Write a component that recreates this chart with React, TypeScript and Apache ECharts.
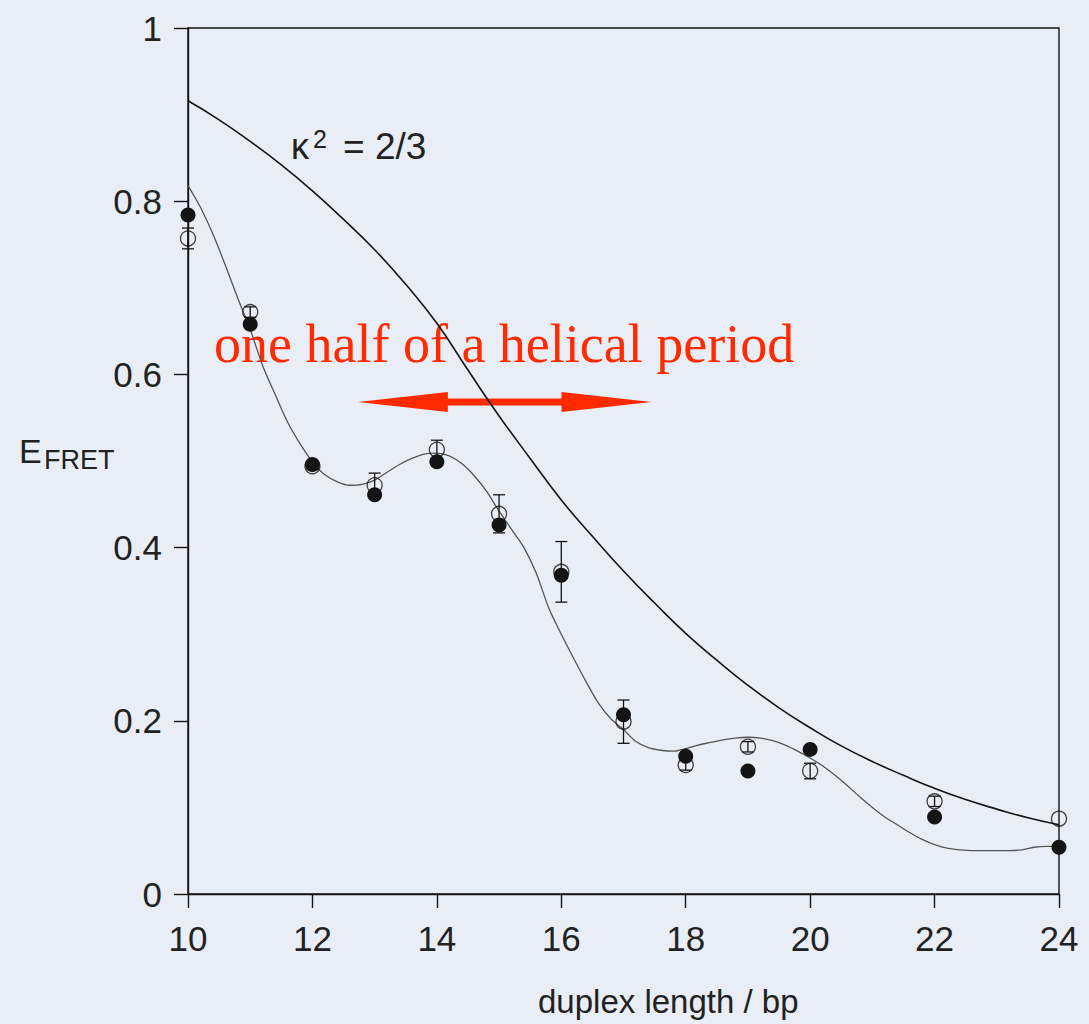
import React, { useEffect, useRef } from "react";
import * as echarts from "echarts";

// Measured FRET efficiencies vs. duplex length
const lengths = [10, 11, 12, 13, 14, 15, 16, 17, 18, 19, 20, 22, 24];
const filledE = [0.784, 0.658, 0.496, 0.461, 0.499, 0.426, 0.368, 0.207, 0.159, 0.142, 0.167, 0.089, 0.054];
const openE = [0.757, 0.672, 0.494, 0.472, 0.513, 0.439, 0.372, 0.199, 0.149, 0.17, 0.142, 0.107, 0.087];
const openErr = [0.012, 0.006, 0.004, 0.014, 0.011, 0.022, 0.035, 0.025, 0.006, 0.006, 0.009, 0.006, 0];

// Model curve for an isotropic orientation factor (kappa^2 = 2/3)
const modelX = [10, 10.5, 11, 11.5, 12, 12.5, 13, 13.5, 14, 14.5, 15, 15.5, 16, 16.5, 17, 17.5, 18, 18.5, 19, 19.5, 20, 20.5, 21, 21.5, 22, 22.5, 23, 23.5, 24];
const modelY = [0.916, 0.894, 0.869, 0.842, 0.812, 0.779, 0.744, 0.704, 0.659, 0.605, 0.552, 0.503, 0.455, 0.413, 0.373, 0.336, 0.301, 0.27, 0.241, 0.215, 0.192, 0.171, 0.153, 0.137, 0.122, 0.109, 0.098, 0.088, 0.08];

// Fitted curve with helical modulation
const fitX = [10, 10.2, 10.4, 10.6, 10.8, 11, 11.2, 11.4, 11.6, 11.8, 12, 12.2, 12.4, 12.6, 12.8, 13, 13.2, 13.4, 13.6, 13.8, 14, 14.2, 14.4, 14.6, 14.8, 15, 15.2, 15.4, 15.6, 15.8, 16, 16.2, 16.4, 16.6, 16.8, 17, 17.2, 17.4, 17.6, 17.8, 18, 18.2, 18.4, 18.6, 18.8, 19, 19.2, 19.4, 19.6, 19.8, 20, 20.2, 20.4, 20.6, 20.8, 21, 21.2, 21.4, 21.6, 21.8, 22, 22.2, 22.4, 22.8, 23.2, 23.4, 23.6, 23.8, 24];
const fitY = [0.818, 0.793, 0.762, 0.726, 0.688, 0.652, 0.61, 0.577, 0.545, 0.52, 0.499, 0.484, 0.476, 0.472, 0.473, 0.478, 0.487, 0.496, 0.503, 0.508, 0.509, 0.506, 0.497, 0.483, 0.465, 0.442, 0.421, 0.4, 0.37, 0.33, 0.3, 0.272, 0.245, 0.22, 0.202, 0.19, 0.176, 0.169, 0.166, 0.165, 0.168, 0.172, 0.175, 0.178, 0.18, 0.181, 0.18, 0.177, 0.172, 0.165, 0.157, 0.148, 0.137, 0.125, 0.112, 0.1, 0.089, 0.08, 0.071, 0.063, 0.057, 0.053, 0.051, 0.05, 0.05, 0.051, 0.054, 0.055, 0.055];

// Axis ranges
const xMin = 10, xMax = 24, xStep = 2;
const yMin = 0, yMax = 1, yStep = 0.2;

// Half helical period annotation (in bp / E units)
const arrowFrom = 12.73;
const arrowTo = 17.45;
const arrowLevel = 0.568;

const SANS = '"Liberation Sans", Arial, Helvetica, sans-serif';
const INK = "#141414";
const RED = "#ff2a00";

export default function App() {
  const ref = useRef<HTMLDivElement>(null);

  useEffect(() => {
    if (!ref.current) return;
    const chart = echarts.init(ref.current, undefined, { renderer: "svg" });

    const errRows = lengths
      .map((x, i) => [x, openE[i], openErr[i]])
      .filter((r) => r[2] > 0);

    chart.setOption({
      animation: false,
      backgroundColor: "#e9eef6",
      grid: {
        left: 188,
        top: 28,
        width: 871,
        height: 866,
        show: true,
        borderColor: INK,
        borderWidth: 1.4,
        backgroundColor: "transparent",
        outerBoundsMode: "none",
      },
      xAxis: {
        type: "value",
        min: xMin,
        max: xMax,
        interval: xStep,
        axisLine: { show: true, lineStyle: { color: INK, width: 1.4 } },
        axisTick: { show: true, length: 14, inside: false, lineStyle: { color: INK, width: 1.4 } },
        axisLabel: { color: "#222", fontFamily: SANS, fontSize: 35, margin: 27 },
        splitLine: { show: false },
      },
      yAxis: {
        type: "value",
        min: yMin,
        max: yMax,
        interval: yStep,
        axisLine: { show: true, lineStyle: { color: INK, width: 1.4 } },
        axisTick: { show: true, length: 14, inside: false, lineStyle: { color: INK, width: 1.4 } },
        axisLabel: { color: "#222", fontFamily: SANS, fontSize: 35, margin: 26 },
        splitLine: { show: false },
      },
      series: [
        {
          type: "line",
          data: modelX.map((x, i) => [x, modelY[i]]),
          smooth: 0.5,
          showSymbol: false,
          lineStyle: { color: INK, width: 1.6 },
          z: 3,
        },
        {
          type: "line",
          data: fitX.map((x, i) => [x, fitY[i]]),
          smooth: 0.3,
          showSymbol: false,
          lineStyle: { color: "#555", width: 1.3 },
          z: 3,
        },
        {
          type: "custom",
          data: errRows,
          encode: { x: 0, y: 1 },
          z: 4,
          renderItem: (params: any, api: any) => {
            const x = api.value(0);
            const y = api.value(1);
            const e = api.value(2);
            const top = api.coord([x, y + e]);
            const bot = api.coord([x, y - e]);
            const w = 6;
            const style = { stroke: INK, lineWidth: 1.3 };
            return {
              type: "group",
              children: [
                { type: "line", shape: { x1: top[0], y1: top[1], x2: bot[0], y2: bot[1] }, style },
                { type: "line", shape: { x1: top[0] - w, y1: top[1], x2: top[0] + w, y2: top[1] }, style },
                { type: "line", shape: { x1: bot[0] - w, y1: bot[1], x2: bot[0] + w, y2: bot[1] }, style },
              ],
            };
          },
        },
        {
          type: "scatter",
          data: lengths.map((x, i) => [x, openE[i]]),
          symbol: "circle",
          symbolSize: 15,
          itemStyle: { color: "rgba(0,0,0,0)", borderColor: INK, borderWidth: 1.3 },
          z: 5,
        },
        {
          type: "scatter",
          data: lengths.map((x, i) => [x, filledE[i]]),
          symbol: "circle",
          symbolSize: 15,
          itemStyle: { color: INK, opacity: 1 },
          z: 6,
        },
      ],
    });

    const p0 = chart.convertToPixel({ gridIndex: 0 }, [arrowFrom, arrowLevel]) as number[];
    const p1 = chart.convertToPixel({ gridIndex: 0 }, [arrowTo, arrowLevel]) as number[];
    const yA = p0[1];
    const head = 90;
    const hh = 10;
    const sh = 3.5;

    chart.setOption({
      graphic: [
        {
          type: "polygon",
          z: 1,
          shape: {
            points: [
              [p0[0], yA],
              [p0[0] + head, yA - hh],
              [p0[0] + head, yA - sh],
              [p1[0] - head, yA - sh],
              [p1[0] - head, yA - hh],
              [p1[0], yA],
              [p1[0] - head, yA + hh],
              [p1[0] - head, yA + sh],
              [p0[0] + head, yA + sh],
              [p0[0] + head, yA + hh],
            ],
          },
          style: { fill: RED },
        },
        {
          type: "text",
          z: 1,
          x: 214,
          y: 344,
          style: {
            text: "one half of a helical period",
            fill: RED,
            font: '54px "Liberation Serif", "DejaVu Serif", serif',
            verticalAlign: "middle",
          },
        },
        {
          type: "text",
          z: 10,
          x: 291,
          y: 146,
          style: { text: "κ", fill: "#222", font: `36px ${SANS}`, verticalAlign: "middle" },
        },
        {
          type: "text",
          z: 10,
          x: 313,
          y: 139,
          style: { text: "2", fill: "#222", font: `25px ${SANS}`, verticalAlign: "middle" },
        },
        {
          type: "text",
          z: 10,
          x: 343,
          y: 146,
          style: { text: "= 2/3", fill: "#222", font: `37px ${SANS}`, verticalAlign: "middle" },
        },
        {
          type: "text",
          z: 10,
          x: 19,
          y: 451,
          style: { text: "E", fill: "#222", font: `34px ${SANS}`, verticalAlign: "middle" },
        },
        {
          type: "text",
          z: 10,
          x: 44,
          y: 460,
          style: { text: "FRET", fill: "#222", font: `27px ${SANS}`, verticalAlign: "middle" },
        },
        {
          type: "text",
          z: 10,
          x: 538,
          y: 1001,
          style: { text: "duplex length / bp", fill: "#222", font: `33px ${SANS}`, verticalAlign: "middle" },
        },
      ],
    });

    return () => chart.dispose();
  }, []);

  return (
    <div
      ref={ref}
      style={{ position: "absolute", left: 0, top: 0, width: 1089, height: 1024 }}
    />
  );
}
